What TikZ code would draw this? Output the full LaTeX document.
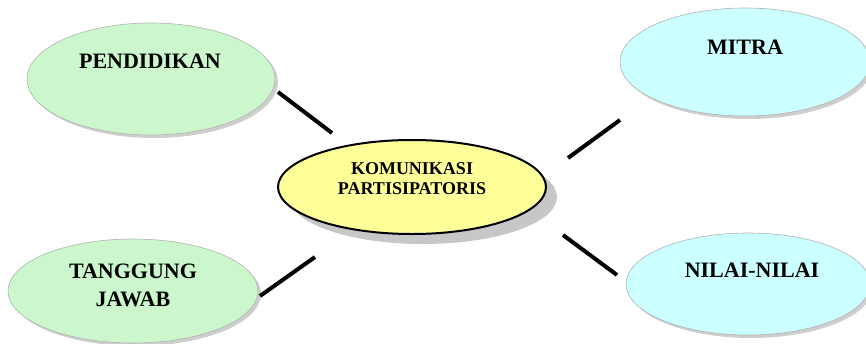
\documentclass[tikz,border=0pt]{standalone}
\usepackage{fontspec}
\setmainfont{Liberation Serif}
\usetikzlibrary{shapes.geometric,shadows}
\definecolor{lgreen}{HTML}{CCF7CC}
\definecolor{lcyan}{HTML}{CCFFFF}
\definecolor{lyellow}{HTML}{FFFF99}
\tikzset{
  outer/.style={ellipse, fill=#1, draw=gray!60, line width=0.6pt, inner sep=0pt,
    drop shadow={shadow xshift=3pt, shadow yshift=-3pt, fill=gray!55, opacity=0.7}},
  centre/.style={ellipse, fill=lyellow, draw=black, line width=2pt, inner sep=0pt,
    minimum width=268pt, minimum height=94pt,
    drop shadow={shadow xshift=11pt, shadow yshift=-10pt, fill=gray!55, opacity=0.8}},
  lbl/.style={font=\bfseries\fontsize{22}{28}\selectfont, align=center, text=black},
  clbl/.style={font=\bfseries\fontsize{18}{20}\selectfont, align=center, text=black},
  conn/.style={line width=4pt, black}
}
\begin{document}
\begin{tikzpicture}[x=1pt,y=-1pt]
\useasboundingbox (0,0) rectangle (866,343);
\node[outer=lgreen, minimum width=248pt, minimum height=112pt] (pend) at (151,79) {};
\node[outer=lcyan, minimum width=250pt, minimum height=108pt] (mitra) at (745,62) {};
\node[outer=lgreen, minimum width=250pt, minimum height=104pt] (tang) at (133,291) {};
\node[outer=lcyan, minimum width=244pt, minimum height=102pt] (nilai) at (748,284) {};
\node[centre] (kom) at (412,187) {};
\node[lbl] (tpend) at (150,61) {PENDIDIKAN};
\node[lbl] (tmitra) at (745,47) {MITRA};
\node[lbl] (ttang) at (133,285) {TANGGUNG\\JAWAB};
\node[lbl] (tnilai) at (752,270) {NILAI-NILAI};
\node[clbl] (tkom) at (412,179) {KOMUNIKASI\\PARTISIPATORIS};
\coordinate (a1) at (278,92);  \coordinate (a2) at (332,133);
\coordinate (b1) at (568,158); \coordinate (b2) at (620,120);
\coordinate (c1) at (260,296); \coordinate (c2) at (315,257);
\coordinate (d1) at (563,235); \coordinate (d2) at (617,275);
\draw[conn] (a1) -- (a2);
\draw[conn] (b1) -- (b2);
\draw[conn] (c1) -- (c2);
\draw[conn] (d1) -- (d2);
\end{tikzpicture}
\end{document}
